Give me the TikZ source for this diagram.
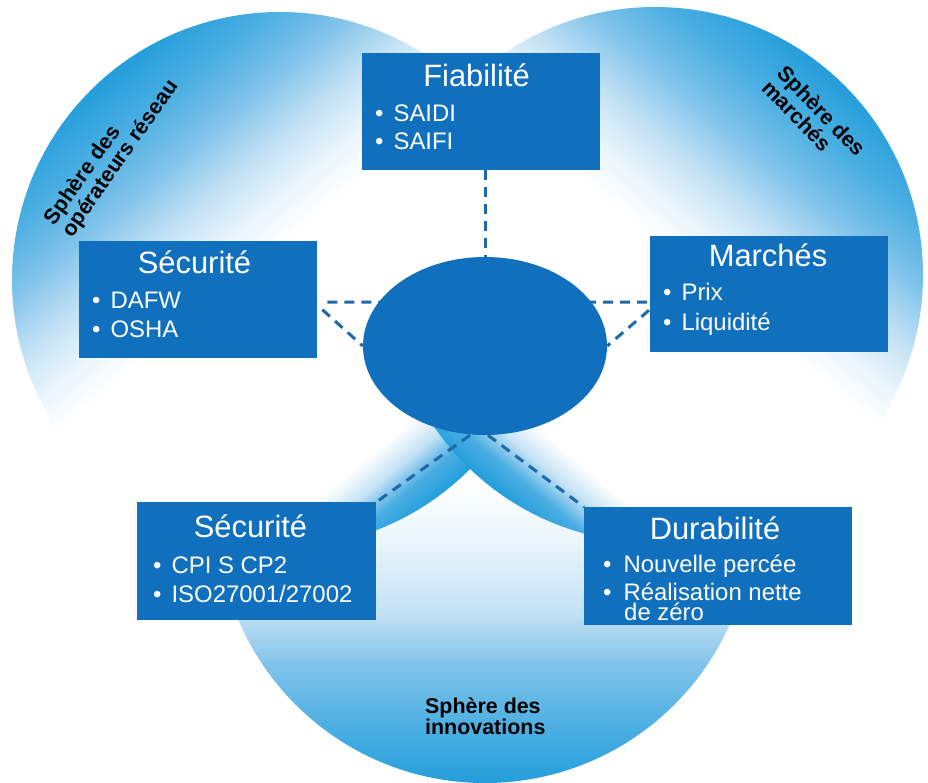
\documentclass[tikz,border=0pt]{standalone}
\usepackage{fontspec}
\setmainfont{Liberation Sans}
\usetikzlibrary{shapes.geometric,calc}

\definecolor{boxblue}{HTML}{1170BD}
\definecolor{dashblue}{HTML}{1F68AA}
\definecolor{sphblue}{HTML}{249EDB}
\definecolor{sphdeep}{HTML}{4AAEE2}
\definecolor{sphmid}{HTML}{80C3EA}
\definecolor{sphlight}{HTML}{C4E2F5}
\definecolor{sphpale}{HTML}{EAF5FC}

% diagonal sphere shading: deep blue on the outer side, wide white band, thin blue rim on the inner side
\pgfdeclarehorizontalshading{sphdiag}{100bp}{%
  color(0bp)=(sphblue); color(25bp)=(sphblue); color(30bp)=(sphdeep);
  color(35bp)=(sphmid); color(40bp)=(sphlight); color(44bp)=(sphpale);
  color(47.5bp)=(white); color(68bp)=(white); color(70.5bp)=(sphlight);
  color(72.75bp)=(sphdeep); color(75bp)=(sphblue); color(100bp)=(sphblue)}
% lower sphere: blue at the bottom fading to white upwards
\pgfdeclareverticalshading{sphvert}{100bp}{%
  color(0bp)=(sphblue); color(25bp)=(sphblue); color(30bp)=(sphdeep);
  color(36bp)=(sphmid); color(41bp)=(sphlight); color(47.5bp)=(sphpale);
  color(53bp)=(white); color(100bp)=(white)}

\pgfdeclarelayer{spheres}
\pgfdeclarelayer{links}
\pgfsetlayers{spheres,links,main}

\newcommand{\itm}{•\hspace{10bp}}

\tikzset{
  box/.style={rectangle, fill=boxblue, inner sep=0pt, anchor=north west},
  hub/.style={ellipse, fill=boxblue, inner sep=0pt, minimum width=244bp, minimum height=178bp},
  ttl/.style={anchor=base, text=white, inner sep=0pt, font=\fontsize{31}{31}\selectfont},
  itemline/.style={anchor=base west, text=white, inner sep=0pt, font=\fontsize{24}{28}\selectfont},
  sphlbl/.style={align=left, inner sep=0pt, text=black, font=\bfseries\fontsize{21.5}{18}\selectfont},
  conn/.style={draw=dashblue, line width=3bp, dash pattern=on 10bp off 7bp}
}

\begin{document}
\begin{tikzpicture}[x=1bp, y=-1bp]
\begin{pgfonlayer}{spheres}
\fill[white] (0,0) rectangle (928,783);
% the three spheres
\shade[shading=sphvert] (485,515) circle[radius=268];
\shade[shading=sphdiag, shading angle=-50] (280,280) circle[radius=268];
\shade[shading=sphdiag, shading angle=-130] (655,275) circle[radius=268];
\end{pgfonlayer}
\useasboundingbox (0,0) rectangle (928,783);

% central hub
\node[hub] (core) at (485,346) {};

% boxes
\node[box, minimum width=238bp, minimum height=117bp] (fiab) at (362,53) {};
\node[box, minimum width=238bp, minimum height=116bp] (march) at (650,236) {};
\node[box, minimum width=238bp, minimum height=117bp] (secU) at (79,241) {};
\node[box, minimum width=239bp, minimum height=118bp] (secL) at (137,502) {};
\node[box, minimum width=268bp, minimum height=118bp] (dura) at (584,507) {};

% dashed connectors, kept beneath the hub and the boxes
\begin{pgfonlayer}{links}
\draw[conn] (fiab.south -| core.north) -- (core.north);
\draw[conn] ($(secU.east)+(10,2.5)$) -- ($(core.center)+(-60,-44)$);
\draw[conn] ($(secU.east)+(5,10)$) -- (core.west);
\draw[conn] ($(march.west)+(-3,8)$) -- ($(core.center)+(60,-44)$);
\draw[conn] ($(march.west)+(-1,16)$) -- (core.east);
\draw[conn] ($(core.south)+(-15,0)$) -- (secL.north east);
\draw[conn] ($(core.south)+(3,0)$) -- (dura.north west);
\end{pgfonlayer}

% box texts
\node[ttl] (fiabT) at ($(fiab.north west)+(114.5,34)$) {Fiabilité};
\node[itemline] (fiab1) at ($(fiab.north west)+(13,68)$) {\itm SAIDI};
\node[itemline] (fiab2) at ($(fiab.north west)+(13,96)$) {\itm SAIFI};

\node[ttl] (marchT) at ($(march.north west)+(118,30)$) {Marchés};
\node[itemline] (march1) at ($(march.north west)+(13,64)$) {\itm Prix};
\node[itemline] (march2) at ($(march.north west)+(13,94)$) {\itm Liquidité};

\node[ttl] (secUT) at ($(secU.north west)+(115.5,32)$) {Sécurité};
\node[itemline] (secU1) at ($(secU.north west)+(13,67)$) {\itm DAFW};
\node[itemline] (secU2) at ($(secU.north west)+(13,96)$) {\itm OSHA};

\node[ttl] (secLT) at ($(secL.north west)+(113.5,35)$) {Sécurité};
\node[itemline] (secL1) at ($(secL.north west)+(16,71)$) {\itm CPI S CP2};
\node[itemline] (secL2) at ($(secL.north west)+(16,100)$) {\itm ISO27001/27002};

\node[ttl] (duraT) at ($(dura.north west)+(131,32)$) {Durabilité};
\node[itemline] (dura1) at ($(dura.north west)+(19,65)$) {•\hspace{12bp}Nouvelle percée};
\node[itemline] (dura2) at ($(dura.north west)+(19,93)$) {•\hspace{12bp}Réalisation nette};
\node[itemline] (dura3) at ($(dura.north west)+(40,113)$) {de zéro};

% sphere captions
\node[sphlbl, rotate=55] (lblnet) at (112,153) {Sphère des\\opérateurs réseau};
\node[sphlbl, rotate=-46] (lblmkt) at (814,118) {Sphère des\\marchés};
\node[sphlbl, anchor=north west] (lblinn) at (425,698) {Sphère des\\innovations};
\end{tikzpicture}
\end{document}
